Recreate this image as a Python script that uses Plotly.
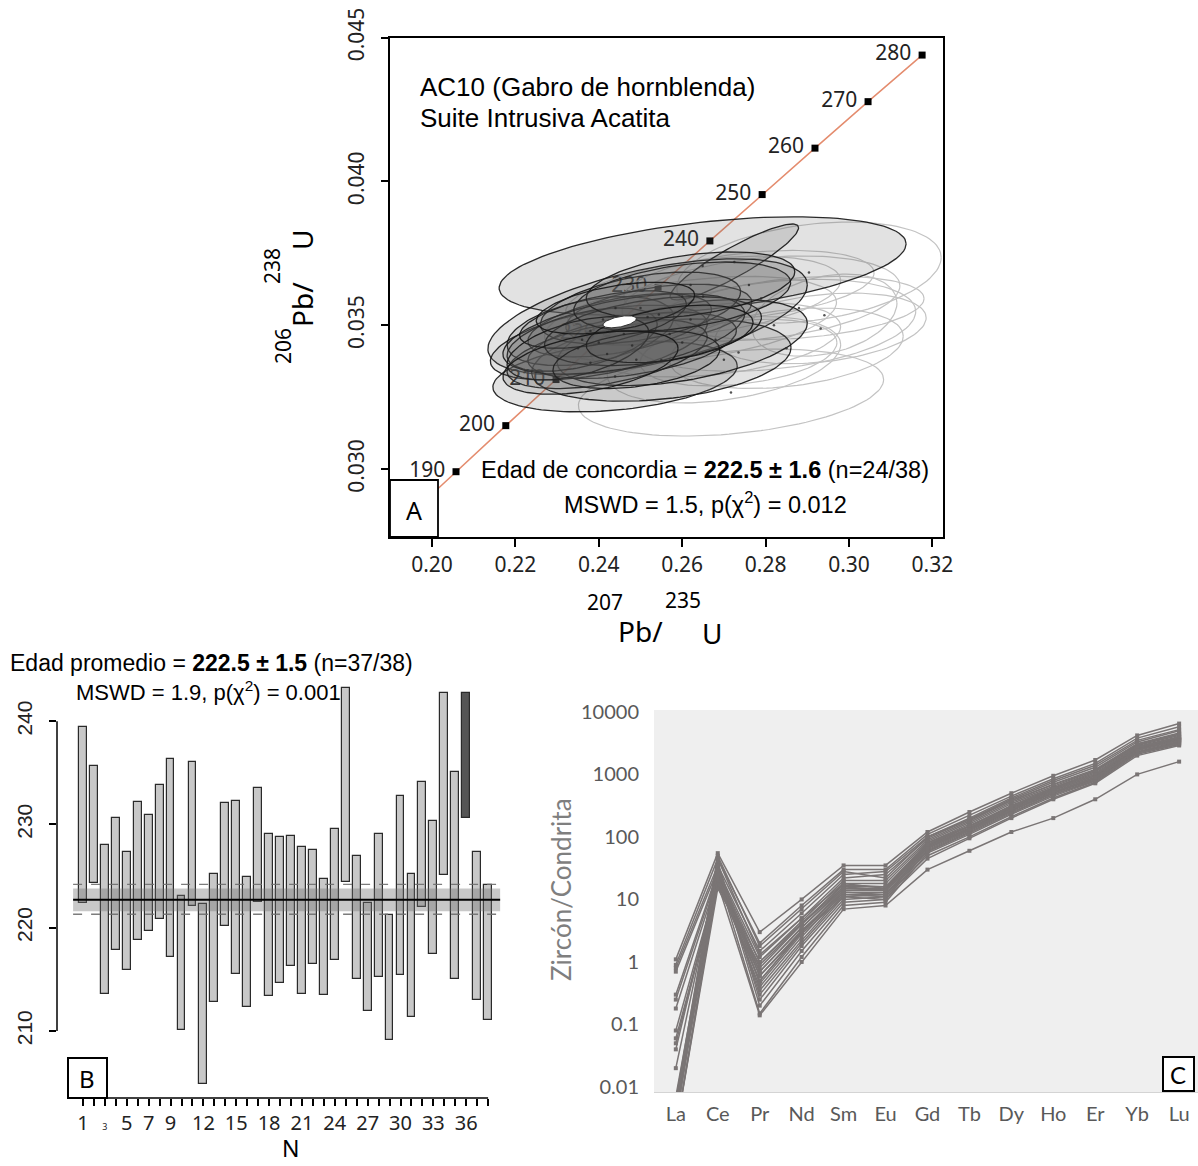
import numpy as np
import plotly.graph_objects as go

W, H = 1198, 1166
def PX(px): return px / W
def PY(py): return 1 - py / H

# ---------------- Panel A data ----------------
conc_curve_age = [185, 190, 200, 210, 220, 230, 240, 250, 260, 270, 280]
conc_curve_x = [0.19986, 0.20576, 0.21770, 0.22975, 0.24190, 0.25421, 0.26664, 0.27917, 0.29184, 0.30457, 0.31753]
conc_curve_y = [0.02911, 0.02991, 0.031511, 0.033113, 0.034717, 0.036323, 0.037932, 0.039543, 0.041157, 0.042773, 0.044392]
conc_tick_labels = ["", "190", "200", "210", "220", "230", "240", "250", "260", "270", "280"]

# included analyses (filled ellipses): centre x, centre y, half-width x, half-height y, rho
inc_x   = [0.2649, 0.2725, 0.2544, 0.2517, 0.2439, 0.2550, 0.2600, 0.2400, 0.2450, 0.2380, 0.2480, 0.2420,
           0.2500, 0.2360, 0.2460, 0.2530, 0.2410, 0.2600, 0.2620, 0.2350, 0.2490, 0.2440, 0.2570, 0.2380]
inc_y   = [0.03706, 0.03720, 0.03537, 0.03529, 0.03322, 0.03379, 0.03440, 0.03440, 0.03500, 0.03480, 0.03430, 0.03400,
           0.03560, 0.03450, 0.03470, 0.03480, 0.03520, 0.03600, 0.03640, 0.03420, 0.03380, 0.03560, 0.03470, 0.03370]
inc_sx  = [0.0488, 0.0154, 0.0223, 0.0383, 0.0293, 0.0311, 0.0300, 0.0260, 0.0220, 0.0200, 0.0250, 0.0240,
           0.0240, 0.0180, 0.0290, 0.0260, 0.0200, 0.0260, 0.0250, 0.0170, 0.0200, 0.0190, 0.0200, 0.0210]
inc_sy  = [0.00171, 0.00132, 0.00106, 0.00202, 0.00123, 0.00143, 0.00150, 0.00130, 0.00110, 0.00120, 0.00115, 0.00120,
           0.00125, 0.00110, 0.00140, 0.00120, 0.00100, 0.00120, 0.00115, 0.00110, 0.00100, 0.00090, 0.00100, 0.00110]
inc_rho = [0.45, 0.90, 0.40, 0.55, 0.30, 0.30, 0.45, 0.50, 0.50, 0.40, 0.45, 0.50,
           0.45, 0.50, 0.50, 0.40, 0.55, 0.40, 0.40, 0.50, 0.35, 0.50, 0.40, 0.45]

# excluded analyses (open ellipses)
exc_x   = [0.2717, 0.2904, 0.2932, 0.2789, 0.2735, 0.2941, 0.2680, 0.2850, 0.2620, 0.2760, 0.2880, 0.2700, 0.2820, 0.2650]
exc_y   = [0.03266, 0.03683, 0.03489, 0.03593, 0.03405, 0.03535, 0.03450, 0.03420, 0.03520, 0.03640, 0.03560, 0.03380, 0.03500, 0.03600]
exc_sx  = [0.0366, 0.0317, 0.0253, 0.0333, 0.0236, 0.0174, 0.0300, 0.0280, 0.0350, 0.0300, 0.0300, 0.0280, 0.0340, 0.0330]
exc_sy  = [0.00151, 0.00176, 0.00123, 0.00148, 0.00116, 0.00143, 0.00130, 0.00140, 0.00150, 0.00120, 0.00110, 0.00150, 0.00160, 0.00140]
exc_rho = [0.30, 0.30, 0.30, 0.30, 0.30, 0.30, 0.35, 0.30, 0.40, 0.35, 0.30, 0.35, 0.30, 0.40]

# concordia age ellipse
cage_x, cage_y, cage_sx, cage_sy, cage_rho = 0.2450, 0.03512, 0.0040, 0.00021, 0.5

# ---------------- Panel B data ----------------
grain_n = list(range(1, 39))
age_top = [239.4, 235.7, 228.0, 230.6, 227.3, 232.2, 230.9, 233.8, 236.3, 223.1, 236.0, 222.3, 225.2, 232.1,
           232.3, 224.9, 233.5, 229.1, 228.8, 228.9, 227.8, 227.5, 224.7, 229.6, 243.2, 226.9, 222.4, 229.1,
           221.2, 232.8, 225.2, 234.1, 230.3, 242.7, 235.1, 242.7, 227.3, 224.1]
age_bot = [222.4, 224.3, 213.6, 217.8, 215.9, 218.8, 219.7, 220.8, 217.2, 210.1, 222.1, 204.9, 212.8, 220.2,
           215.5, 212.3, 222.5, 213.4, 214.6, 216.3, 213.6, 216.5, 213.5, 216.9, 224.4, 215.0, 211.9, 215.2,
           209.1, 215.4, 211.3, 222.0, 217.4, 225.1, 215.0, 230.6, 213.0, 211.1]
rejected = [36]
mean_age = 222.7
band_lo, band_hi = 221.6, 223.8
dash_lo, dash_hi = 221.3, 224.2
b_tick_vals = list(range(1, 39))
b_tick_labels = {1: "1", 3: "<span style='font-size:9px'>3</span>", 5: "5", 7: "7", 9: "9", 12: "12", 15: "15",
                 18: "18", 21: "21", 24: "24", 27: "27", 30: "30", 33: "33", 36: "36"}

# ---------------- Panel C data ----------------
ree_elements = ["La", "Ce", "Pr", "Nd", "Sm", "Eu", "Gd", "Tb", "Dy", "Ho", "Er", "Yb", "Lu"]
ree_samples = [
    [1.1, 55, 3.0, 10, 35, 35, 120, 250, 500, 950, 1700, 4200, 6500],
    [0.9, 45, 2.0, 8, 30, 30, 110, 220, 450, 850, 1500, 3800, 5800],
    [0.8, 35, 1.5, 6, 25, 28, 100, 200, 420, 800, 1400, 3500, 5200],
    [0.7, 30, 1.2, 5, 22, 25, 95, 190, 400, 750, 1300, 3300, 5000],
    [0.3, 28, 1.0, 4.5, 20, 20, 90, 180, 380, 700, 1200, 3100, 4600],
    [0.25, 25, 0.8, 4, 18, 18, 85, 170, 360, 650, 1150, 3000, 4400],
    [0.18, 22, 0.7, 3.5, 16, 16, 80, 160, 340, 620, 1100, 2900, 4200],
    [0.08, 20, 0.6, 3, 15, 15, 75, 150, 320, 600, 1050, 2800, 4000],
    [0.06, 18, 0.5, 3, 14, 14, 72, 145, 300, 580, 1000, 2700, 3900],
    [0.05, 20, 0.4, 2.5, 13, 13, 70, 140, 290, 550, 950, 2600, 3800],
    [0.04, 25, 0.35, 2.2, 12, 12, 68, 135, 280, 530, 900, 2500, 3600],
    [0.02, 30, 0.3, 2, 11, 12, 65, 130, 270, 510, 880, 2400, 3500],
    [0.005, 40, 0.25, 1.8, 10, 11, 62, 125, 260, 500, 850, 2300, 3400],
    [0.003, 35, 0.2, 1.5, 9, 10, 60, 120, 250, 480, 820, 2250, 3300],
    [0.004, 25, 0.15, 1.2, 8, 9, 55, 110, 230, 450, 780, 2200, 3200],
    [0.002, 18, 0.14, 1.0, 7, 8, 30, 60, 120, 200, 400, 1000, 1600],
    [0.006, 50, 1.8, 7, 28, 22, 100, 190, 380, 680, 1150, 3000, 4400],
    [0.003, 45, 1.3, 5, 18, 15, 80, 150, 300, 560, 950, 2600, 3700],
    [0.002, 15, 0.9, 4, 16, 14, 70, 135, 270, 520, 900, 2500, 3600],
    [0.004, 20, 0.5, 3, 12, 11, 50, 100, 210, 420, 750, 2100, 3000],
    [0.007, 35, 0.45, 2.8, 11, 10, 45, 95, 200, 400, 720, 2000, 2900],
    [0.003, 28, 0.6, 3.2, 13, 12, 58, 115, 240, 470, 800, 2200, 3100],
    [0.002, 22, 1.0, 4.2, 17, 16, 75, 150, 310, 590, 1000, 2700, 3900],
    [0.005, 30, 0.7, 3.6, 15, 14, 66, 130, 275, 520, 880, 2450, 3500],
]

FONT = "Liberation Sans"
fig = go.Figure()

def ellipse(cx, cy, sx, sy, rho, n=120):
    t = np.linspace(0, 2 * np.pi, n)
    ex = cx + sx * np.cos(t)
    ey = cy + sy * (rho * np.cos(t) + np.sqrt(1 - rho ** 2) * np.sin(t))
    return ex, ey

# ---- Panel A traces ----
fig.add_trace(go.Scatter(x=conc_curve_x, y=conc_curve_y, mode="lines",
                         line=dict(color="rgb(228,140,110)", width=1.5), xaxis="x", yaxis="y",
                         hoverinfo="skip", showlegend=False))
fig.add_trace(go.Scatter(x=conc_curve_x[1:], y=conc_curve_y[1:], mode="markers+text",
                         text=[t + " " for t in conc_tick_labels[1:]], textposition="middle left",
                         textfont=dict(family="Noto Sans", size=21, color="#222"),
                         marker=dict(symbol="square", size=7, color="black"),
                         xaxis="x", yaxis="y", showlegend=False, cliponaxis=False))

for i in range(len(exc_x)):
    ex, ey = ellipse(exc_x[i], exc_y[i], exc_sx[i], exc_sy[i], exc_rho[i])
    fig.add_trace(go.Scatter(x=ex, y=ey, mode="lines", line=dict(color="rgb(195,195,195)", width=1.2),
                             xaxis="x", yaxis="y", showlegend=False, hoverinfo="skip"))
for i in range(len(inc_x)):
    ex, ey = ellipse(inc_x[i], inc_y[i], inc_sx[i], inc_sy[i], inc_rho[i])
    fig.add_trace(go.Scatter(x=ex, y=ey, mode="lines", fill="toself", fillcolor="rgba(95,95,95,0.18)",
                             line=dict(color="rgba(20,20,20,0.9)", width=1.3),
                             xaxis="x", yaxis="y", showlegend=False, hoverinfo="skip"))
fig.add_trace(go.Scatter(x=inc_x + exc_x, y=inc_y + exc_y, mode="markers",
                         marker=dict(size=2.5, color="rgba(40,40,40,0.8)"),
                         xaxis="x", yaxis="y", showlegend=False))
ex, ey = ellipse(cage_x, cage_y, cage_sx, cage_sy, cage_rho)
fig.add_trace(go.Scatter(x=ex, y=ey, mode="lines", fill="toself", fillcolor="white",
                         line=dict(color="#333", width=1), xaxis="x", yaxis="y", showlegend=False))

# ---- Panel B traces ----
heights = [t - b for t, b in zip(age_top, age_bot)]
colors = ["#555555" if n in rejected else "#c8c8c8" for n in grain_n]
fig.add_trace(go.Bar(x=grain_n, y=heights, base=age_bot, width=0.72, marker=dict(color=colors,
                     line=dict(color="#2a2a2a", width=1.2)), xaxis="x2", yaxis="y2", showlegend=False))

# ---- Panel C traces ----
cx = list(range(len(ree_elements)))
for s in ree_samples:
    fig.add_trace(go.Scatter(x=cx, y=s, mode="lines+markers",
                             line=dict(color="rgb(122,117,117)", width=1.5),
                             marker=dict(symbol="square", size=4, color="rgb(122,117,117)"),
                             xaxis="x3", yaxis="y3", showlegend=False))

shapes = []
shapes.append(dict(type="rect", xref="x2", yref="y2", x0=0.1, x1=39.1, y0=band_lo, y1=band_hi,
                   fillcolor="rgba(110,110,110,0.38)", line=dict(width=0), layer="above"))
for yv in (dash_lo, dash_hi):
    shapes.append(dict(type="line", xref="x2", yref="y2", x0=0.1, x1=39.1, y0=yv, y1=yv,
                       line=dict(color="rgba(110,110,110,0.9)", width=1.3, dash="dash"), layer="above"))
shapes.append(dict(type="line", xref="x2", yref="y2", x0=0.1, x1=39.1, y0=mean_age, y1=mean_age,
                   line=dict(color="black", width=2), layer="above"))
shapes.append(dict(type="line", xref="x2", yref="y2 domain", x0=-0.37, x1=38, y0=0, y1=0,
                   line=dict(color="black", width=1.5)))
shapes.append(dict(type="line", xref="x2 domain", yref="y2", x0=0, x1=0, y0=210, y1=240,
                   line=dict(color="black", width=1.5)))
shapes.append(dict(type="rect", xref="paper", yref="paper", x0=PX(68), x1=PX(107), y0=PY(1098), y1=PY(1058),
                   line=dict(color="black", width=2), fillcolor="white", layer="above"))
shapes.append(dict(type="rect", xref="paper", yref="paper", x0=PX(390), x1=PX(438), y0=PY(537), y1=PY(480),
                   line=dict(color="black", width=1.8), fillcolor="white", layer="above"))
shapes.append(dict(type="rect", xref="x3 domain", yref="y3 domain", x0=0, x1=1, y0=0, y1=1,
                   fillcolor="#efefef", line=dict(width=0), layer="below"))
shapes.append(dict(type="rect", xref="paper", yref="paper", x0=PX(1163), x1=PX(1194), y0=PY(1091), y1=PY(1057),
                   line=dict(color="black", width=2), fillcolor="white", layer="above"))

ann = []
def A(text, px, py, size=20, xanchor="center", angle=0, color="black", family=FONT):
    ann.append(dict(text=text, x=PX(px), y=PY(py), xref="paper", yref="paper", showarrow=False,
                    xanchor=xanchor, yanchor="middle", textangle=angle, borderpad=0,
                    font=dict(size=size, color=color, family=family)))

A("AC10 (Gabro de hornblenda)", 419, 87, size=26, xanchor="left")
A("Suite Intrusiva Acatita", 419, 118, size=26, xanchor="left")
A("Edad de concordia = <b>222.5 ± 1.6</b> (n=24/38)", 705, 470, size=23.5)
A("MSWD = 1.5, p(χ<sup>2</sup>) = 0.012", 705, 503, size=23.5)
A("A", 414, 510, size=25, family="Noto Sans")
A("207", 605, 602, size=21, family="Noto Sans")
A("235", 683, 600, size=21, family="Noto Sans")
A("Pb/", 640, 631, size=28, family="Noto Sans")
A("U", 712, 633, size=28, family="Noto Sans")
A("206", 283, 346, size=21, angle=-90, family="Noto Sans")
A("Pb/", 302, 305, size=28, angle=-90, family="Noto Sans")
A("238", 272, 266, size=21, angle=-90, family="Noto Sans")
A("U", 302, 240, size=28, angle=-90, family="Noto Sans")
A("Edad promedio = <b>222.5 ± 1.5</b> (n=37/38)", 9, 663, size=23, xanchor="left")
A("MSWD = 1.9, p(χ<sup>2</sup>) = 0.001", 75, 691, size=22, xanchor="left")
A("B", 87, 1078, size=24, family="Noto Sans")
A("N", 290, 1148, size=23, family="Noto Sans")
A("Zircón/Condrita", 561, 890, size=26, angle=-90, color="#7f7f7f", family="Lato")
A("C", 1178, 1074, size=24, family="Lato")

common = dict(automargin=False, showgrid=False, zeroline=False)
fig.update_layout(
    template="none",
    width=W, height=H, margin=dict(l=0, r=0, t=0, b=0, pad=0, autoexpand=False),
    paper_bgcolor="white", plot_bgcolor="rgba(0,0,0,0)", showlegend=False,
    shapes=shapes, annotations=ann, bargap=0,
    xaxis=dict(domain=[PX(390), PX(943)], range=[0.18993, 0.32254], anchor="y",
               tickvals=[0.20, 0.22, 0.24, 0.26, 0.28, 0.30, 0.32],
               ticktext=["0.20", "0.22", "0.24", "0.26", "0.28", "0.30", "0.32"],
               ticks="outside", ticklen=8, tickwidth=1.5, tickcolor="black",
               showline=True, mirror=True, linecolor="black", linewidth=1.5,
               ticklabelstandoff=0, tickfont=dict(family="Noto Sans", size=21, color="#222"), **common),
    yaxis=dict(domain=[PY(537), PY(37.5)], range=[0.02764, 0.045003], anchor="x",
               tickvals=[0.030, 0.035, 0.040, 0.045], ticktext=["0.030", "0.035", "0.040", "0.045"],
               tickangle=-90, ticks="outside", ticklen=7, tickwidth=1.5, tickcolor="black",
               showline=True, mirror=True, linecolor="black", linewidth=1.5,
               ticklabelstandoff=9, tickfont=dict(family="Noto Sans", size=21, color="#222"), **common),
    xaxis2=dict(domain=[PX(57), PX(502)], range=[-1.37, 39.27], anchor="y2",
                tickvals=b_tick_vals, ticktext=[b_tick_labels.get(v, "") for v in b_tick_vals],
                tickangle=0, ticks="outside", ticklen=7, tickwidth=1.5, tickcolor="black", showline=False,
                ticklabelstandoff=0, tickfont=dict(family="Noto Sans", size=20, color="#222"), **common),
    yaxis2=dict(domain=[PY(1098), PY(684)], range=[203.5, 243.6], anchor="x2",
                tickvals=[210, 220, 230, 240], ticktext=["210", "220", "230", "240"], tickangle=-90,
                ticks="outside", ticklen=7, tickwidth=1.5, tickcolor="black", showline=False,
                ticklabelstandoff=9, tickfont=dict(family=FONT, size=21, color="#222"), **common),
    xaxis3=dict(domain=[PX(654), 1.0], range=[-0.52, 12.45], anchor="y3",
                tickvals=cx, ticktext=ree_elements, ticks="", showline=True, linecolor="#d4d4d4",
                linewidth=1, ticklabelstandoff=4,
                tickfont=dict(family="Lato", size=20, color="#595959"), **common),
    yaxis3=dict(domain=[PY(1092), PY(710)], type="log", range=[-2.08, 4.03], anchor="x3",
                tickvals=[0.01, 0.1, 1, 10, 100, 1000, 10000],
                ticktext=["0.01", "0.1", "1", "10", "100", "1000", "10000"],
                ticks="", showline=False, ticklabelstandoff=14,
                tickfont=dict(family="Lato", size=20, color="#595959"), **common),
)

fig.write_html("out.html")
